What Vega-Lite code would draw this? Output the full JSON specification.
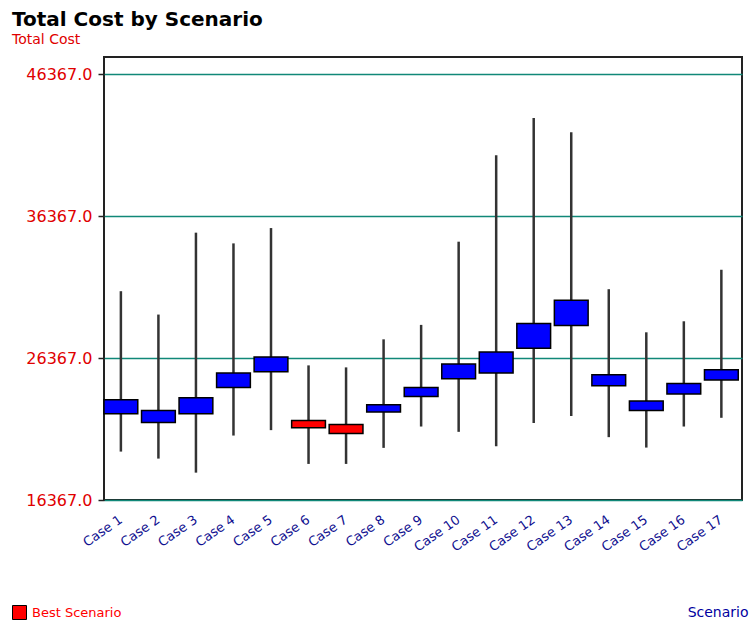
{
  "$schema": "https://vega.github.io/schema/vega-lite/v6.json",
  "autosize": {"type": "none"},
  "padding": {"left": 104, "top": 57, "right": 8, "bottom": 122},
  "width": 638,
  "height": 443,
  "background": "white",
  "title": {
    "text": "Total Cost by Scenario",
    "subtitle": "Total Cost",
    "anchor": "start",
    "frame": "group",
    "dx": -92,
    "offset": 10,
    "font": "DejaVu Sans",
    "fontSize": 20,
    "fontWeight": "bold",
    "color": "#000000",
    "subtitleFont": "DejaVu Sans",
    "subtitleFontSize": 14,
    "subtitleColor": "#e00000",
    "subtitlePadding": 3
  },
  "config": {
    "view": {"stroke": "#222222", "strokeWidth": 2},
    "axis": {"labelFont": "DejaVu Sans", "titleFont": "DejaVu Sans"}
  },
  "data": {
    "values": [
      {"scenario": "Case 1", "low": 19780, "q1": 22445, "q3": 23434, "high": 31088, "type": "Other"},
      {"scenario": "Case 2", "low": 19286, "q1": 21830, "q3": 22678, "high": 29441, "type": "Other"},
      {"scenario": "Case 3", "low": 18296, "q1": 22445, "q3": 23575, "high": 35215, "type": "Other"},
      {"scenario": "Case 4", "low": 20911, "q1": 24303, "q3": 25321, "high": 34459, "type": "Other"},
      {"scenario": "Case 5", "low": 21293, "q1": 25413, "q3": 26452, "high": 35540, "type": "Other"},
      {"scenario": "Case 6", "low": 18911, "q1": 21455, "q3": 21971, "high": 25858, "type": "Best Scenario"},
      {"scenario": "Case 7", "low": 18911, "q1": 21052, "q3": 21688, "high": 25717, "type": "Best Scenario"},
      {"scenario": "Case 8", "low": 20042, "q1": 22565, "q3": 23081, "high": 27695, "type": "Other"},
      {"scenario": "Case 9", "low": 21547, "q1": 23667, "q3": 24303, "high": 28713, "type": "Other"},
      {"scenario": "Case 10", "low": 21173, "q1": 24918, "q3": 25957, "high": 34579, "type": "Other"},
      {"scenario": "Case 11", "low": 20162, "q1": 25321, "q3": 26805, "high": 40677, "type": "Other"},
      {"scenario": "Case 12", "low": 21787, "q1": 27059, "q3": 28805, "high": 43292, "type": "Other"},
      {"scenario": "Case 13", "low": 22282, "q1": 28664, "q3": 30452, "high": 42303, "type": "Other"},
      {"scenario": "Case 14", "low": 20798, "q1": 24423, "q3": 25201, "high": 31229, "type": "Other"},
      {"scenario": "Case 15", "low": 20063, "q1": 22678, "q3": 23342, "high": 28190, "type": "Other"},
      {"scenario": "Case 16", "low": 21547, "q1": 23837, "q3": 24586, "high": 28967, "type": "Other"},
      {"scenario": "Case 17", "low": 22162, "q1": 24826, "q3": 25554, "high": 32600, "type": "Other"}
    ]
  },
  "encoding": {
    "x": {
      "field": "scenario",
      "type": "nominal",
      "sort": null,
      "scale": {"paddingInner": 0.1, "paddingOuter": 0.05, "align": 0},
      "axis": {
        "title": "Scenario",
        "titleAnchor": "end",
        "titleAlign": "right",
        "titleX": 644,
        "titleY": 116,
        "titleBaseline": "alphabetic",
        "titleColor": "#0000a0",
        "titleFontSize": 14,
        "titleFontWeight": "normal",
        "labelAngle": -35,
        "labelAlign": "right",
        "labelBaseline": "middle",
        "labelColor": "#101090",
        "labelFontSize": 13,
        "labelPadding": 18,
        "ticks": false,
        "domain": false,
        "grid": false
      }
    }
  },
  "layer": [
    {
      "mark": {"type": "rule", "color": "#333333", "strokeWidth": 2.5},
      "encoding": {
        "y": {
          "field": "low",
          "type": "quantitative",
          "scale": {"domain": [16367, 47600], "nice": false, "zero": false},
          "axis": {
            "title": null,
            "values": [16367, 26367, 36367, 46367],
            "format": ".1f",
            "labelColor": "#e00000",
            "labelFontSize": 16,
            "labelPadding": 6,
            "tickColor": "#222222",
            "tickSize": 6,
            "tickWidth": 1.5,
            "domain": false,
            "grid": true,
            "gridColor": "#108878",
            "gridWidth": 1.5,
            "gridOpacity": 1
          }
        },
        "y2": {"field": "high"}
      }
    },
    {
      "mark": {"type": "bar", "stroke": "#000000", "strokeWidth": 1.5},
      "encoding": {
        "y": {"field": "q1", "type": "quantitative"},
        "y2": {"field": "q3"},
        "color": {
          "field": "type",
          "type": "nominal",
          "scale": {"domain": ["Best Scenario", "Other"], "range": ["#ff0000", "#0000ff"]},
          "legend": {
            "values": ["Best Scenario"],
            "title": null,
            "orient": "none",
            "legendX": -92,
            "legendY": 548,
            "padding": 0,
            "symbolType": "square",
            "symbolSize": 196,
            "symbolStrokeColor": "#000000",
            "symbolStrokeWidth": 1,
            "symbolOpacity": 1,
            "labelColor": "#ff0000",
            "labelFont": "DejaVu Sans",
            "labelFontSize": 13,
            "labelOffset": 5
          }
        }
      }
    }
  ]
}
